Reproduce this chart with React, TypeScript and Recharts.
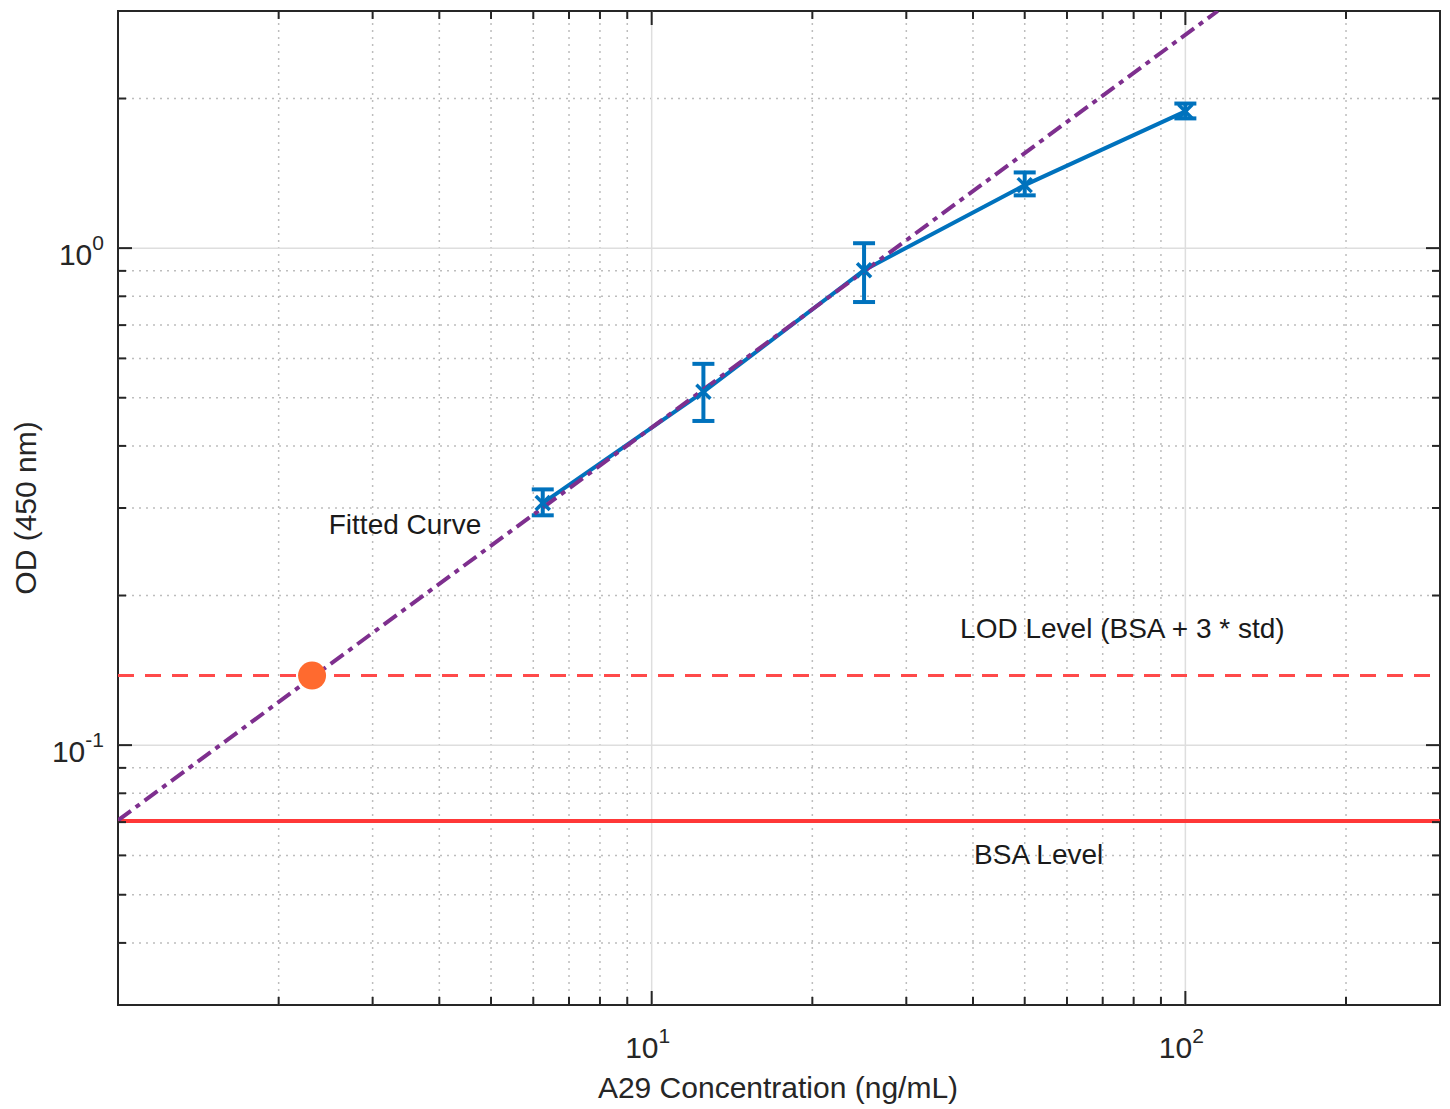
import React from 'react';
import {
  ComposedChart,
  Line,
  Scatter,
  XAxis,
  YAxis,
  ErrorBar,
  ReferenceLine,
  ReferenceArea,
  ReferenceDot,
} from 'recharts';

// measured concentrations (ng/mL) and OD readings
const concentrations = [6.25, 12.5, 25, 50, 100];
const odMeans = [0.307, 0.514, 0.903, 1.339, 1.884];
const odErrLow = [0.017, 0.065, 0.124, 0.062, 0.06];
const odErrHigh = [0.02, 0.071, 0.12, 0.081, 0.07];

// fitted curve endpoints (straight in log-log)
const fitX = [1, 115];
const fitY = [0.0706, 3.0];

// detection limit point
const lodX = [2.31];
const lodY = [0.138];

const bsaLevel = 0.0704;
const lodLevel = 0.138;

// axis ticks
const xMinorTicks = [2, 3, 4, 5, 6, 7, 8, 9, 20, 30, 40, 50, 60, 70, 80, 90, 200];
const xMajorTicks = [10, 100];
const xMajorExp = ['1', '2'];
const yMinorTicks = [0.04, 0.05, 0.06, 0.07, 0.08, 0.09, 0.2, 0.3, 0.4, 0.5, 0.6, 0.7, 0.8, 0.9, 2];
const yMajorTicks = [0.1, 1];
const yMajorExp = ['-1', '0'];

const measured = concentrations.map((c, i) => ({
  x: c,
  y: odMeans[i],
  err: [odErrLow[i], odErrHigh[i]],
}));
const fitted = fitX.map((x, i) => ({ x, y: fitY[i] }));
const lodPoint = lodX.map((x, i) => ({ x, y: lodY[i] }));

const W = 1450;
const H = 1109;
const PLOT = { left: 118, right: 1440, top: 11, bottom: 1005 };
const AXIS = '#262626';
const BLUE = '#0072BD';
const FONT = '"Liberation Sans", Arial, Helvetica, sans-serif';

const XTick = (props: any) => {
  const { x, payload } = props;
  const v = payload.value;
  const mi = xMajorTicks.indexOf(v);
  const len = mi >= 0 ? 14 : 8;
  return (
    <g>
      <line x1={x} x2={x} y1={PLOT.bottom} y2={PLOT.bottom - len} stroke={AXIS} strokeWidth={2} />
      <line x1={x} x2={x} y1={PLOT.top} y2={PLOT.top + len} stroke={AXIS} strokeWidth={2} />
      {mi >= 0 && (
        <text x={x - 4} y={1058} textAnchor="middle" fontFamily={FONT} fontSize={30} fill={AXIS}>
          10
          <tspan dy={-15} fontSize={21}>{xMajorExp[mi]}</tspan>
        </text>
      )}
    </g>
  );
};

const YTick = (props: any) => {
  const { y, payload } = props;
  const v = payload.value;
  const mi = yMajorTicks.indexOf(v);
  const len = mi >= 0 ? 14 : 8;
  return (
    <g>
      <line x1={PLOT.left} x2={PLOT.left + len} y1={y} y2={y} stroke={AXIS} strokeWidth={2} />
      <line x1={PLOT.right} x2={PLOT.right - len} y1={y} y2={y} stroke={AXIS} strokeWidth={2} />
      {mi >= 0 && (
        <text x={104} y={y + 17} textAnchor="end" fontFamily={FONT} fontSize={30} fill={AXIS}>
          10
          <tspan dy={-15} fontSize={21}>{yMajorExp[mi]}</tspan>
        </text>
      )}
    </g>
  );
};

const XMarker = (props: any) => {
  const { cx, cy } = props;
  if (cx == null || cy == null) return null;
  const s = 7;
  return (
    <g>
      <line x1={cx - s} y1={cy - s} x2={cx + s} y2={cy + s} stroke={BLUE} strokeWidth={3.5} />
      <line x1={cx - s} y1={cy + s} x2={cx + s} y2={cy - s} stroke={BLUE} strokeWidth={3.5} />
    </g>
  );
};

const LodDot = (props: any) => {
  const { cx, cy } = props;
  return <circle cx={cx} cy={cy} r={14} fill="#FF6A2F" />;
};

const Note = (text: string) => (props: any) => {
  const { viewBox } = props;
  const cx = viewBox.x + viewBox.width / 2;
  const cy = viewBox.y + viewBox.height / 2;
  return (
    <text x={cx} y={cy + 10} textAnchor="middle" fontFamily={FONT} fontSize={28} fill="#1a1a1a">
      {text}
    </text>
  );
};

export default function App() {
  return (
    <div style={{ position: 'absolute', left: 0, top: 0, background: '#fff' }}>
      <ComposedChart width={W} height={H} margin={{ top: 11, right: 10, bottom: 0, left: 0 }}>
        <XAxis
          dataKey="x"
          type="number"
          scale="log"
          domain={[1, 300]}
          allowDataOverflow
          ticks={[...xMinorTicks, ...xMajorTicks].sort((a, b) => a - b)}
          interval={0}
          height={104}
          axisLine={false}
          tickLine={false}
          tickSize={0}
          tick={<XTick />}
          label={(p: any) => (
            <text x={778} y={1098} textAnchor="middle" fontFamily={FONT} fontSize={30} fill={AXIS}>
              A29 Concentration (ng/mL)
            </text>
          )}
        />
        <YAxis
          dataKey="y"
          type="number"
          scale="log"
          domain={[0.03, 3]}
          allowDataOverflow
          ticks={[...yMinorTicks, ...yMajorTicks].sort((a, b) => a - b)}
          interval={0}
          width={118}
          axisLine={false}
          tickLine={false}
          tickSize={0}
          tick={<YTick />}
          label={(p: any) => (
            <text
              x={36}
              y={508}
              transform="rotate(-90, 36, 508)"
              textAnchor="middle"
              fontFamily={FONT}
              fontSize={30}
              fill={AXIS}
            >
              OD (450 nm)
            </text>
          )}
        />

        {/* grid: dotted minor, solid major */}
        {xMinorTicks.map((v) => (
          <ReferenceLine key={'gx' + v} x={v} stroke="#bdbdbd" strokeWidth={1.5} strokeDasharray="2 5" />
        ))}
        {yMinorTicks.map((v) => (
          <ReferenceLine key={'gy' + v} y={v} stroke="#bdbdbd" strokeWidth={1.5} strokeDasharray="2 5" />
        ))}
        {xMajorTicks.map((v) => (
          <ReferenceLine key={'mx' + v} x={v} stroke="#dedede" strokeWidth={1.5} />
        ))}
        {yMajorTicks.map((v) => (
          <ReferenceLine key={'my' + v} y={v} stroke="#dedede" strokeWidth={1.5} />
        ))}

        <ReferenceLine y={bsaLevel} stroke="#FF3838" strokeWidth={4} />

        <Line
          data={measured}
          dataKey="y"
          stroke={BLUE}
          strokeWidth={4}
          dot={<XMarker />}
          activeDot={false}
          isAnimationActive={false}
        >
          <ErrorBar dataKey="err" direction="y" width={11} stroke={BLUE} strokeWidth={4} />
        </Line>

        <Line
          data={fitted}
          dataKey="y"
          stroke="#7E2F8E"
          strokeWidth={4}
          strokeDasharray="16 6 5 6"
          dot={false}
          activeDot={false}
          isAnimationActive={false}
        />

        <Scatter data={lodPoint} dataKey="y" shape={<LodDot />} isAnimationActive={false} />

        <ReferenceLine y={lodLevel} stroke="#FF4A4A" strokeWidth={3} strokeDasharray="16 11" />

        <ReferenceDot x={3.45} y={0.279} r={0} fill="none" stroke="none" label={Note('Fitted Curve')} />
        <ReferenceDot x={76.2} y={0.172} r={0} fill="none" stroke="none" label={Note('LOD Level (BSA + 3 * std)')} />
        <ReferenceDot x={53.1} y={0.0604} r={0} fill="none" stroke="none" label={Note('BSA Level')} />

        <ReferenceArea x1={1} x2={300} y1={0.03} y2={3} fill="none" fillOpacity={0} stroke={AXIS} strokeWidth={2} />
      </ComposedChart>
    </div>
  );
}
